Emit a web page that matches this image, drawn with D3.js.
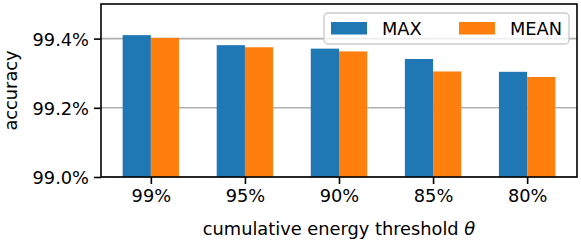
<!DOCTYPE html>
<html>
<head>
<meta charset="utf-8">
<script src="https://cdn.jsdelivr.net/npm/d3@7"></script>
<style>
  body { margin: 0; background: #fff; }
  text { font-family: "DejaVu Sans", sans-serif; fill: #000; }
</style>
</head>
<body>
<script>
// data
var thresholds = ["99%", "95%", "90%", "85%", "80%"];
var maxAcc  = [99.410, 99.381, 99.371, 99.341, 99.304];
var meanAcc = [99.402, 99.375, 99.363, 99.305, 99.289];
var seriesNames = ["MAX", "MEAN"];
var seriesColors = ["#1f77b4", "#ff7f0e"];
var yTicks = [99.0, 99.2, 99.4];

var width = 581, height = 242;
var margin = {left: 101, right: 4, top: 4, bottom: 65};
var fs = 17.8;

var svg = d3.select("body").append("svg")
  .attr("width", width)
  .attr("height", height);

var x0 = margin.left, x1 = width - margin.right;
var y0 = height - margin.bottom, y1 = margin.top;

// positions 0..4, bars 0.3 wide, matplotlib style 5% margin
var x = d3.scaleLinear().domain([-0.53, 4.53]).range([x0, x1]);
var y = d3.scaleLinear().domain([99.0, 99.5]).range([y0, y1]);
var bw = 0.3;

// grid
svg.append("g").selectAll("line")
  .data(yTicks)
  .enter().append("line")
  .attr("x1", x0).attr("x2", x1)
  .attr("y1", function(d) { return y(d); })
  .attr("y2", function(d) { return y(d); })
  .attr("stroke", "#b0b0b0")
  .attr("stroke-width", 1.6);

// bars
var series = [maxAcc, meanAcc];
series.forEach(function(vals, s) {
  svg.append("g").selectAll("rect")
    .data(vals)
    .enter().append("rect")
    .attr("x", function(d, i) { return x(i + (s === 0 ? -bw : 0)); })
    .attr("width", x(bw) - x(0))
    .attr("y", function(d) { return y(d); })
    .attr("height", function(d) { return y0 - y(d); })
    .attr("fill", seriesColors[s]);
});

// axes
var yAxis = d3.axisLeft(y)
  .tickValues(yTicks)
  .tickFormat(function(d) { return d.toFixed(1) + "%"; })
  .tickSize(7).tickPadding(5);
var gy = svg.append("g").attr("transform", "translate(" + x0 + ",0)").call(yAxis);

var xAxis = d3.axisBottom(x)
  .tickValues(d3.range(thresholds.length))
  .tickFormat(function(d) { return thresholds[d]; })
  .tickSize(7).tickPadding(5);
var gx = svg.append("g").attr("transform", "translate(0," + y0 + ")").call(xAxis);

[gx, gy].forEach(function(g) {
  g.select(".domain").remove();
  g.selectAll("line").attr("stroke", "#000").attr("stroke-width", 1.6);
  g.selectAll("text").style("font-size", fs + "px").attr("fill", "#000")
    .style("font-family", "DejaVu Sans");
});
gy.selectAll("text").attr("dy", "0.36em");

// frame
svg.append("rect")
  .attr("x", x0).attr("y", y1)
  .attr("width", x1 - x0).attr("height", y0 - y1)
  .attr("fill", "none").attr("stroke", "#000").attr("stroke-width", 1.6);

// axis labels
svg.append("text")
  .attr("transform", "translate(17," + ((y0 + y1) / 2) + ") rotate(-90)")
  .attr("text-anchor", "middle")
  .style("font-size", fs + "px")
  .text("accuracy");

var xl = svg.append("text")
  .attr("x", (x0 + x1) / 2).attr("y", 235)
  .attr("text-anchor", "middle")
  .style("font-size", fs + "px");
xl.append("tspan").text("cumulative energy threshold ");
xl.append("tspan").style("font-style", "italic").text("θ");

// legend
var lg = svg.append("g").attr("transform", "translate(324,13)");
lg.append("rect")
  .attr("width", 245).attr("height", 31).attr("rx", 4)
  .attr("fill", "#fff").attr("fill-opacity", 0.8)
  .attr("stroke", "#ccc").attr("stroke-width", 1.4);
var legX = [7, 135];
seriesNames.forEach(function(n, i) {
  lg.append("rect")
    .attr("x", legX[i]).attr("y", 9)
    .attr("width", 36).attr("height", 12.5)
    .attr("fill", seriesColors[i]);
  lg.append("text")
    .attr("x", legX[i] + 51).attr("y", 22)
    .style("font-size", fs + "px")
    .text(n);
});
</script>
</body>
</html>
